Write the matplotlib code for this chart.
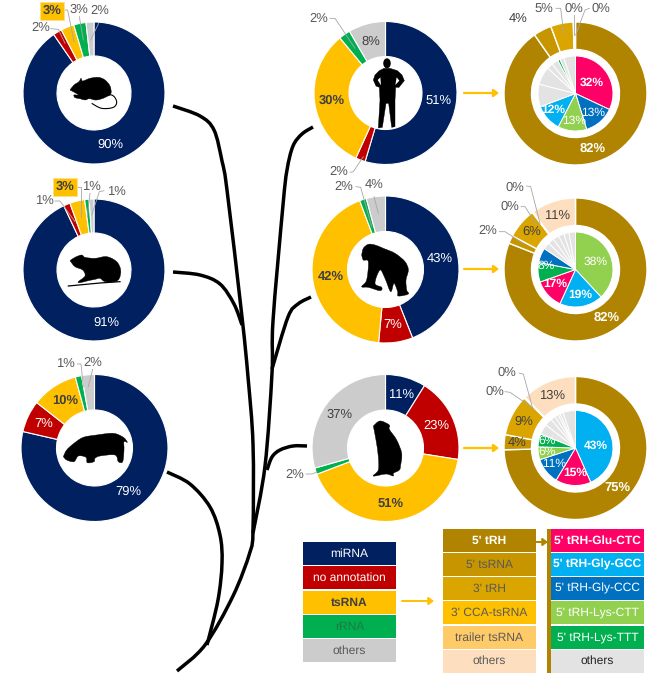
import matplotlib
matplotlib.use("Agg")
import matplotlib.pyplot as plt
from matplotlib.path import Path
from matplotlib.patches import PathPatch, Polygon, Ellipse

plt.rcParams['font.family'] = ['Liberation Sans', 'DejaVu Sans']
plt.rcParams['text.hinting'] = 'none'
plt.rcParams['text.hinting_factor'] = 1

# ===================== data =====================
mouse_values = [90.4, 2, 3, 2.8, 1.8]
mouse_labels = ['90%', '2%', '3%', '3%', '2%']
rat_values = [93, 1.5, 3.4, 1, 1.1]
rat_labels = ['91%', '1%', '3%', '1%', '1%']
pig_values = [78.6, 7, 10.2, 1.4, 2.8]
pig_labels = ['79%', '7%', '10%', '1%', '2%']
human_values = [54.6, 2.2, 32.2, 2.6, 8.4]
human_labels = ['51%', '2%', '30%', '2%', '8%']
chimp_values = [44, 7.5, 42.8, 1.5, 4.2]
chimp_labels = ['43%', '7%', '42%', '2%', '4%']
ape_values = [8.9, 18.6, 41.7, 1.4, 29.4]
ape_labels = ['11%', '23%', '51%', '2%', '37%']

outer1_values = [90.3, 4.1, 5.1, 0.2, 0.1, 0.2]
outer1_labels = ['82%', '4%', '5%', '0%', '0%']
outer2_values = [81, 1.8, 6.9, 0.1, 0.1, 10.1]
outer2_labels = ['82%', '2%', '6%', '0%', '0%', '11%']
outer3_values = [74.6, 3.4, 9.3, 0.1, 0.1, 12.5]
outer3_labels = ['75%', '4%', '9%', '0%', '0%', '13%']

inner1_values = [32, 13.2, 12.4, 11.7, 9.7, 7.8, 2.6, 2.8, 1, 1.8, 5]
inner1_labels = ['32%', '13%', '13%', '12%']
inner2_values = [38.1, 18.7, 12.8, 8.4, 6.4, 3, 2.6, 2.6, 2.4, 2.2, 2.8]
inner2_labels = ['38%', '19%', '17%', '8%']
inner3_values = [43.3, 15.3, 11.3, 5.5, 5.6, 4.5, 3.2, 2, 1.5, 1, 1.3, 5.4]
inner3_labels = ['43%', '15%', '11%', '6%', '6%']

legend1_labels = ['miRNA', 'no annotation', 'tsRNA', 'rRNA', 'others']
legend2_labels = ["5' tRH", "5' tsRNA", "3' tRH", "3' CCA-tsRNA", 'trailer tsRNA', 'others']
legend3_labels = ["5' tRH-Glu-CTC", "5' tRH-Gly-GCC", "5' tRH-Gly-CCC",
                  "5' tRH-Lys-CTT", "5' tRH-Lys-TTT", 'others']

# ===================== colours =====================
NAVY, RED, YELLOW, GREEN, GREY = '#002060', '#C00000', '#FFC000', '#00B050', '#CCCCCC'
colors_main = [NAVY, RED, YELLOW, GREEN, GREY]
colors_outer = ['#B08400', '#C69500', '#DBA500', '#FFC000', '#FFCB69', '#FDDFBF']
PINK, SKY, BLUE, LIME, PALE = '#FF0066', '#00B0F0', '#0070C0', '#92D050', '#E3E3E3'
colors_legend3 = [PINK, SKY, BLUE, LIME, GREEN, PALE]
colors_inner1 = [PINK, BLUE, LIME, SKY, PALE, PALE, PALE, PALE, GREEN, PALE, PALE]
colors_inner2 = [LIME, SKY, PINK, GREEN, BLUE] + [PALE] * 6
colors_inner3 = [SKY, PINK, BLUE, LIME, GREEN] + [PALE] * 7

TXT = '#595959'
DARK = '#404040'
LEAD = '#A6A6A6'

fig = plt.figure(figsize=(6.5, 6.74), dpi=100)
ax = fig.add_axes([0, 0, 1, 1])


def donut(values, colors, cx, cy, r, hole, lw=0.8):
    # y axis is inverted below, so counterclock=True runs clockwise on screen
    ax.pie(values, colors=colors, center=(cx, cy), radius=r, startangle=270,
           counterclock=True, frame=True,
           wedgeprops=dict(width=r - hole, edgecolor='white', linewidth=lw))


def labels(texts, spots, styles, size=9.0):
    for t, (x, y), st in zip(texts, spots, styles):
        kw = dict(ha='center', va='center', fontsize=size, zorder=6)
        if st == 'w':
            kw.update(color='white')
        elif st == 'W':
            kw.update(color='white', fontweight='bold')
        elif st == 'b':
            kw.update(color=DARK, fontweight='bold')
        elif st == 'h':
            kw.update(color=DARK, fontweight='bold',
                      bbox=dict(boxstyle='square,pad=0.22', fc=YELLOW, ec='#FFE08A', lw=0.6))
        elif st == 'd':
            kw.update(color=DARK)
        else:
            kw.update(color=TXT)
        ax.text(x, y, t, **kw)


def leaders(lines):
    for ln in lines:
        ax.plot([p[0] for p in ln], [p[1] for p in ln], color=LEAD, lw=0.6, zorder=5)


def smooth(points):
    # catmull-rom through the waypoints, as cubic bezier segments
    verts = [points[0]]
    codes = [Path.MOVETO]
    n = len(points)
    for i in range(n - 1):
        p0 = points[max(i - 1, 0)]
        p1 = points[i]
        p2 = points[i + 1]
        p3 = points[min(i + 2, n - 1)]
        c1 = (p1[0] + (p2[0] - p0[0]) / 6, p1[1] + (p2[1] - p0[1]) / 6)
        c2 = (p2[0] - (p3[0] - p1[0]) / 6, p2[1] - (p3[1] - p1[1]) / 6)
        verts += [c1, c2, p2]
        codes += [Path.CURVE4] * 3
    return Path(verts, codes)


def zoomed(points, ox, oy):
    return [(ox + x / 3, oy + y / 3) for x, y in points]


def blob(points, ox, oy):
    # closed, slightly rounded animal outline
    pts = zoomed(points, ox, oy)
    ax.add_patch(PathPatch(smooth(pts + pts[:1]), fc='black', ec='black', lw=0.3, zorder=4))


# ===================== donuts left column =====================
donut(mouse_values, colors_main, 94, 93, 71, 37)
labels(mouse_labels, [(110, 145), (40.5, 28), (52, 11), (79, 10), (100, 11)],
       ['w', 't', 'h', 't', 't'])
leaders(zoomed(l, 0, 0) for l in [
    [(152, 86), (175, 88), (195, 130)],
    [(190, 30), (203, 30), (222, 125)],
    [(238, 50), (250, 120)],
    [(296, 70), (272, 120)]])

donut(rat_values, colors_main, 94, 270, 71, 37)
labels(rat_labels, [(106, 323), (44, 201), (65, 187), (91, 187), (116, 192)],
       ['w', 't', 'h', 't', 't'])
leaders(zoomed(l, 0, 170) for l in [
    [(165, 93), (180, 93), (225, 155)],
    [(232, 50), (243, 50), (243, 140)],
    [(270, 70), (262, 140)],
    [(312, 62), (298, 65), (275, 135)]])

donut(pig_values, colors_main, 94.5, 448, 73.5, 38)
labels(pig_labels, [(128, 492), (44, 424), (65, 401), (65, 364), (93, 363)],
       ['w', 'w', 'b', 't', 't'])
leaders(zoomed(l, 0, 350) for l in [
    [(232, 42), (243, 42), (250, 110)],
    [(278, 58), (265, 110)]])

# ===================== donuts middle column =====================
donut(human_values, colors_main, 385.5, 93, 71.5, 36.5)
labels(human_labels, [(439, 101), (339, 172), (332, 100), (319, 19), (371, 42)],
       ['w', 't', 'b', 't', 'd'])
leaders(zoomed(l, 300, 0) for l in [
    [(90, 55), (105, 55), (165, 145)],
    [(150, 517), (160, 515), (190, 470)]])

donut(chimp_values, colors_main, 385.5, 269.5, 73.5, 38)
labels(chimp_labels, [(440, 259), (393, 325), (331, 277), (344, 187), (374, 185)],
       ['w', 'w', 'b', 't', 't'])
leaders(zoomed(l, 300, 180) for l in [
    [(168, 20), (182, 22), (215, 140)],
    [(222, 50), (235, 100)]])

donut(ape_values, colors_main, 385.5, 448, 73.5, 38)
labels(ape_labels, [(401, 395), (436, 426), (391, 504), (295, 475), (340, 415)],
       ['w', 'w', 'b', 't', 'd'])
leaders([[(306, 474), (312, 474), (317, 472)]])

# ===================== donuts right column =====================
donut(outer1_values, colors_outer, 575.5, 93.5, 71.5, 44, lw=1.0)
donut(inner1_values, colors_inner1, 575.5, 93.5, 37.5, 0, lw=0.7)
labels(outer1_labels, [(593, 149), (518, 19), (544, 9), (574, 9), (601, 9)],
       ['W', 'd', 't', 't', 't'])
labels(inner1_labels, [(592, 83), (593, 113), (574, 121), (553, 110)], ['W', 'w', 'w', 'W'], size=8.7)
leaders(zoomed(l, 490, 0) for l in [
    [(198, 25), (212, 25), (222, 105)],
    [(253, 45), (253, 105)],
    [(298, 25), (285, 30), (257, 105)]])

donut(outer2_values, colors_outer, 575.5, 269.5, 71.5, 44, lw=1.0)
donut(inner2_values, colors_inner2, 575.5, 269.5, 37.5, 0, lw=0.7)
labels(outer2_labels, [(607, 318), (488, 231), (532, 232), (515, 188), (510, 207), (557, 216)],
       ['W', 't', 'd', 't', 't', 'd'])
labels(inner2_labels, [(596, 262), (580, 295), (555, 284), (546, 266)], ['w', 'W', 'W', 'w'], size=8.7)
leaders(zoomed(l, 490, 175) for l in [
    [(110, 33), (122, 35), (150, 145)],
    [(93, 95), (105, 95), (140, 150)],
    [(28, 170), (45, 170), (100, 205)]])

donut(outer3_values, colors_outer, 575.5, 448, 71.5, 44, lw=1.0)
donut(inner3_values, colors_inner3, 575.5, 448, 37.5, 0, lw=0.7)
labels(outer3_labels, [(617, 488), (517, 443), (524, 422), (507, 373), (495, 392), (552, 396)],
       ['W', 'd', 'd', 't', 't', 'd'])
labels(inner3_labels, [(596, 446), (575, 473), (554, 464), (547, 452), (547, 441)],
       ['W', 'W', 'w', 'w', 'w'], size=8.7)
leaders(zoomed(l, 490, 355) for l in [
    [(88, 55), (100, 57), (128, 160)],
    [(45, 110), (60, 112), (130, 160)]])

# ===================== silhouettes =====================
mouse_shape = [(210, 270), (222, 255), (237, 245), (243, 235), (248, 243), (270, 235), (295, 232),
               (315, 240), (330, 258), (333, 280), (320, 290), (300, 298), (285, 300), (268, 296),
               (255, 300), (240, 296), (225, 293), (222, 285), (235, 285), (225, 278)]
blob(mouse_shape, 0, 0)
ax.add_patch(PathPatch(smooth(zoomed([(300, 292), (335, 285), (350, 305), (340, 322), (305, 325), (275, 310)], 0, 0)),
                       fc='none', ec='black', lw=0.8, zorder=4))

rat_shape = [(210, 272), (225, 262), (245, 255), (255, 262), (285, 265), (320, 260), (350, 275),
             (362, 300), (358, 325), (345, 335), (315, 335), (300, 325), (285, 328), (265, 332),
             (240, 338), (235, 335), (255, 318), (248, 300), (225, 290)]
blob(rat_shape, 0, 170)
ax.plot(*zip(*zoomed([(205, 348), (300, 339), (360, 335)], 0, 170)), color='black', lw=0.9, zorder=4)

pig_shape = [(190, 320), (200, 300), (222, 280), (250, 262), (290, 255), (340, 250), (370, 262),
             (382, 277), (372, 275), (372, 300), (368, 335), (355, 335), (345, 315), (300, 318),
             (285, 325), (282, 335), (262, 338), (258, 322), (235, 318), (222, 335), (200, 330)]
blob(pig_shape, 0, 350)

human_shape = [(252, 205), (270, 205), (292, 212), (306, 225), (313, 242), (297, 262), (287, 262),
               (285, 300), (285, 380), (275, 382), (266, 310), (258, 310), (247, 382), (235, 384),
               (240, 300), (238, 262), (228, 258), (220, 240), (225, 225), (238, 212)]
ax.add_patch(Polygon(zoomed(human_shape, 300, 0), fc='black', ec='black', lw=0.3, zorder=4))
ax.add_patch(Polygon(zoomed([(233, 240), (241, 232), (243, 256)], 300, 0), fc='white', ec='none', zorder=4.5))
ax.add_patch(Polygon(zoomed([(290, 232), (298, 242), (286, 255)], 300, 0), fc='white', ec='none', zorder=4.5))
hx, hy = zoomed([(261, 190)], 300, 0)[0]
ax.add_patch(Ellipse((hx, hy), 7.5, 10, fc='black', ec='none', zorder=4))

chimp_shape = [(185, 225), (190, 205), (205, 193), (225, 195), (250, 205), (285, 220), (315, 245),
               (325, 270), (318, 300), (320, 330), (325, 342), (295, 348), (293, 335), (282, 310),
               (272, 335), (255, 295), (240, 270), (225, 310), (245, 322), (240, 332), (205, 322),
               (185, 320), (200, 300), (205, 245), (190, 240)]
blob(chimp_shape, 300, 180)

ape_shape = [(220, 228), (240, 213), (268, 225), (268, 238), (290, 270), (305, 310), (302, 345),
             (298, 360), (280, 370), (280, 378), (258, 372), (220, 378), (235, 360), (235, 320),
             (228, 270)]
blob(ape_shape, 300, 350)

# ===================== tree lines =====================
curves = [
    [(173, 106), (200, 116), (214, 130), (222, 161), (227, 190), (242, 317), (248, 377), (253, 444),
     (253, 529), (250, 552), (233, 596), (205, 645), (177, 671)],
    [(173, 272), (200, 275), (220, 284), (234, 304), (242, 325)],
    [(167, 472), (190, 484), (210, 507), (220, 535), (222, 563), (218, 600), (207, 645)],
    [(313, 127), (302, 134), (293, 146), (287, 170), (283, 205), (273, 321), (272, 373), (265, 466),
     (253, 533)],
    [(311, 297), (298, 304), (288, 317), (272, 369)],
    [(307, 446), (293, 446), (280, 450), (272, 457), (267, 470)],
]
for c in curves:
    ax.add_patch(PathPatch(smooth(c), fc='none', ec='black', lw=2.5, capstyle='butt', zorder=3))

# ===================== arrows =====================
for y in [93, 269, 448]:
    ax.annotate('', xy=(499, y), xytext=(464, y), zorder=3,
                arrowprops=dict(arrowstyle='-|>,head_width=0.22,head_length=0.3',
                                color=YELLOW, lw=1.6, shrinkA=0, shrinkB=0))
ax.annotate('', xy=(434, 601), xytext=(402, 601),
            arrowprops=dict(arrowstyle='-|>,head_width=0.22,head_length=0.3',
                            color=YELLOW, lw=1.4, shrinkA=0, shrinkB=0))
ax.annotate('', xy=(548, 542), xytext=(536, 542),
            arrowprops=dict(arrowstyle='-|>,head_width=0.22,head_length=0.3',
                            color=colors_outer[0], lw=1.4, shrinkA=0, shrinkB=0))

# ===================== legends =====================
tops1 = [542, 566, 591, 615, 639]
ax.bar([349.5] * 5, [23] * 5, width=93, bottom=tops1, color=colors_main)
styles1 = ['w', 'w', 'b', 'r', 't']
for t, y, st in zip(legend1_labels, tops1, styles1):
    col = {'w': 'white', 'b': DARK, 'r': '#1E7A43', 't': TXT}[st]
    ax.text(349.5, y + 11.5, t, ha='center', va='center', fontsize=8.7, color=col,
            fontweight='bold' if st == 'b' else 'normal')

tops2 = [529, 553, 577, 601, 626, 649.5]
ax.bar([489.5] * 6, [23] * 6, width=93, bottom=tops2, color=colors_outer)
for i, (t, y) in enumerate(zip(legend2_labels, tops2)):
    ax.text(489.5, y + 11.5, t, ha='center', va='center', fontsize=8.7,
            color='white' if i == 0 else '#5A5A5A', fontweight='bold' if i == 0 else 'normal')

ax.bar([549], [144], width=4, bottom=[529], color=colors_outer[0])
ax.bar([597.5] * 6, [23] * 6, width=93, bottom=tops2, color=colors_legend3)
for i, (t, y) in enumerate(zip(legend3_labels, tops2)):
    ax.text(597.5, y + 11.5, t, ha='center', va='center', fontsize=8.7,
            color='#222222' if i == 5 else 'white', fontweight='bold' if i < 2 else 'normal')

ax.set_xlim(0, 650)
ax.set_ylim(674, 0)
ax.axis('off')
fig.savefig('out.png', dpi=100)
